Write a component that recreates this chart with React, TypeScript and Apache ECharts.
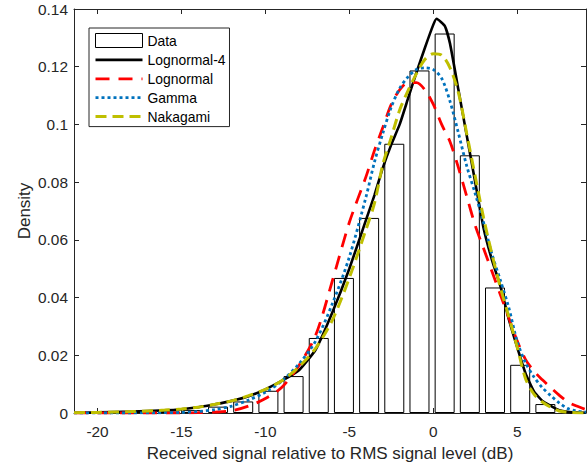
import React, { useEffect, useRef } from "react";
import * as echarts from "echarts";

// Histogram bins (bin centres in dB, density)
const binCenters = [-20.32, -18.82, -17.32, -15.82, -14.32, -12.82, -11.32, -9.82, -8.32, -6.82, -5.32, -3.82, -2.32, -0.82, 0.68, 2.18, 3.68, 5.18, 6.68, 8.18];
const binDensity = [0.0001, 0.0002, 0.0003, 0.0005, 0.001, 0.0022, 0.004, 0.0077, 0.0128, 0.026, 0.0468, 0.0676, 0.0933, 0.1187, 0.1315, 0.0893, 0.0435, 0.0167, 0.0031, 0.0004];

// Lognormal-4 fit
const logn4X = [-21.4, -20, -18, -16, -15, -14, -13, -12, -11, -10, -9, -8, -7, -6, -5, -4, -3.5, -3, -2.5, -2, -1.5, -1, -0.5, 0, 0.2, 0.7, 1, 1.5, 2, 2.5, 3, 3.5, 4, 4.5, 5, 5.5, 6, 6.5, 7, 7.5, 8, 8.5, 9.1];
const logn4Y = [0.0001, 0.0002, 0.0005, 0.0009, 0.0013, 0.002, 0.003, 0.0042, 0.0058, 0.0082, 0.0112, 0.0148, 0.022, 0.035, 0.05, 0.067, 0.0755, 0.085, 0.093, 0.1, 0.109, 0.118, 0.1265, 0.1345, 0.1366, 0.134, 0.128, 0.112, 0.096, 0.08, 0.064, 0.053, 0.044, 0.0325, 0.0228, 0.0137, 0.0075, 0.0042, 0.0025, 0.001, 0.0004, 0.0002, 0.0001];

// Shared x grid for the other fits
const fitX = [-21.4, -20, -18, -16, -15, -14, -13, -12, -11, -10, -9, -8, -7, -6, -5, -4, -3.5, -3, -2.5, -2, -1.5, -1, -0.5, 0, 0.5, 1, 1.5, 2, 2.5, 3, 3.5, 4, 4.5, 5, 5.5, 6, 6.5, 7, 7.5, 8, 8.5, 9.1];
const lognY = [0, 0, 0, 0, 0, 0.0001, 0.0003, 0.0008, 0.0024, 0.005, 0.009, 0.0165, 0.027, 0.046, 0.066, 0.082, 0.091, 0.099, 0.107, 0.112, 0.1145, 0.1145, 0.112, 0.107, 0.1, 0.094, 0.085, 0.075, 0.065, 0.057, 0.049, 0.041, 0.033, 0.025, 0.0185, 0.0145, 0.0115, 0.0088, 0.0062, 0.0039, 0.0025, 0.0012];
const gammaY = [0, 0, 0, 0.0001, 0.0002, 0.0005, 0.0012, 0.0024, 0.0045, 0.0072, 0.0112, 0.017, 0.025, 0.038, 0.054, 0.075, 0.087, 0.097, 0.106, 0.1125, 0.1165, 0.119, 0.1196, 0.119, 0.116, 0.108, 0.097, 0.0855, 0.076, 0.066, 0.055, 0.046, 0.0365, 0.0248, 0.0174, 0.0125, 0.0088, 0.006, 0.0035, 0.0016, 0.0007, 0.0003];
const nakaY = [0.0001, 0.0002, 0.0005, 0.001, 0.0014, 0.002, 0.003, 0.0042, 0.006, 0.0082, 0.0113, 0.016, 0.0225, 0.0323, 0.0468, 0.0637, 0.0727, 0.0862, 0.0955, 0.105, 0.1117, 0.1176, 0.1225, 0.1245, 0.124, 0.1196, 0.111, 0.0967, 0.082, 0.0676, 0.055, 0.0435, 0.0334, 0.0229, 0.0119, 0.0065, 0.0038, 0.002, 0.0007, 0.0003, 0.0001, 0];

const xTickValues = [-20, -15, -10, -5, 0, 5];
const seriesNames = ["Data", "Lognormal-4", "Lognormal", "Gamma", "Nakagami"];

const FONT = "'Liberation Sans', Arial, Helvetica, sans-serif";
const AXIS = "#262626";

const zip = (xs: number[], ys: number[]) => xs.map((x, i) => [x, ys[i]]);

export default function App() {
  const ref = useRef<HTMLDivElement>(null);
  useEffect(() => {
    document.body.style.margin = "0";
    if (!ref.current) return;
    const chart = echarts.init(ref.current, null, { renderer: "svg" });
    const xBase = {
      type: "value" as const,
      min: -21.4,
      max: 9.1,
      splitLine: { show: false },
      axisLine: { show: true, onZero: false, lineStyle: { color: AXIS, width: 1 } },
      axisTick: { show: true, inside: true, length: 5, customValues: xTickValues, lineStyle: { color: AXIS } },
    };
    const yBase = {
      type: "value" as const,
      min: 0,
      max: 0.14,
      interval: 0.02,
      splitLine: { show: false },
      axisLine: { show: true, onZero: false, lineStyle: { color: AXIS, width: 1 } },
      axisTick: { show: true, inside: true, length: 5, lineStyle: { color: AXIS } },
    };
    const hiddenSymbol = { opacity: 0 };
    chart.setOption({
      animation: false,
      backgroundColor: "#fff",
      grid: { left: 74, right: 1, top: 9, bottom: 54, containLabel: false, outerBoundsMode: "none" },
      xAxis: [
        {
          ...xBase,
          position: "bottom",
          name: "Received signal relative to RMS signal level (dB)",
          nameLocation: "middle",
          nameGap: 32,
          nameMoveOverlap: false,
          nameTextStyle: { fontSize: 17, color: AXIS, fontFamily: FONT },
          axisLabel: { customValues: xTickValues, margin: 11, fontSize: 15.4, color: AXIS, fontFamily: FONT },
        },
        { ...xBase, position: "top", axisLabel: { show: false } },
      ],
      yAxis: [
        {
          ...yBase,
          position: "left",
          name: "Density",
          nameLocation: "middle",
          nameGap: 41,
          nameMoveOverlap: false,
          nameTextStyle: { fontSize: 17, color: AXIS, fontFamily: FONT },
          axisLabel: { margin: 6, fontSize: 15.4, color: AXIS, fontFamily: FONT },
        },
        { ...yBase, position: "right", axisLabel: { show: false } },
      ],
      legend: {
        orient: "vertical",
        left: 89,
        top: 28,
        itemWidth: 47,
        itemHeight: 14,
        itemGap: 4.9,
        padding: [5, 4, 3, 5],
        borderColor: AXIS,
        borderWidth: 1,
        backgroundColor: "#fff",
        selectedMode: false,
        textStyle: { fontSize: 13.9, color: "#000", fontFamily: FONT },
        data: [
          { name: seriesNames[0], icon: "rect", itemStyle: { color: "#fff", borderColor: "#000", borderWidth: 1 } },
          { name: seriesNames[1], lineStyle: { width: 2.6 }, itemStyle: hiddenSymbol },
          { name: seriesNames[2], lineStyle: { width: 2.8 }, itemStyle: hiddenSymbol },
          { name: seriesNames[3], lineStyle: { width: 2.8 }, itemStyle: hiddenSymbol },
          { name: seriesNames[4], lineStyle: { width: 3 }, itemStyle: hiddenSymbol },
        ],
      },
      series: [
        {
          name: seriesNames[0],
          type: "bar",
          data: zip(binCenters, binDensity),
          barWidth: 20,
          itemStyle: { color: "#fff", borderColor: "#000", borderWidth: 1 },
          z: 1,
        },
        {
          name: seriesNames[1],
          type: "line",
          data: zip(logn4X, logn4Y),
          symbol: "none",
          smooth: 0.15,
          lineStyle: { color: "#000", width: 2.6, type: "solid" },
          itemStyle: { color: "#000" },
          z: 2,
        },
        {
          name: seriesNames[2],
          type: "line",
          data: zip(fitX, lognY),
          symbol: "none",
          smooth: 0.3,
          lineStyle: { color: "#FF0000", width: 2.8, type: [14, 9] },
          itemStyle: { color: "#FF0000" },
          z: 3,
        },
        {
          name: seriesNames[3],
          type: "line",
          data: zip(fitX, gammaY),
          symbol: "none",
          smooth: 0.3,
          lineStyle: { color: "#0072BD", width: 2.8, type: [3, 3] },
          itemStyle: { color: "#0072BD" },
          z: 4,
        },
        {
          name: seriesNames[4],
          type: "line",
          data: zip(fitX, nakaY),
          symbol: "none",
          smooth: 0.3,
          lineStyle: { color: "#BFBF00", width: 3, type: [11, 6] },
          itemStyle: { color: "#BFBF00" },
          z: 5,
        },
      ],
    });
    return () => chart.dispose();
  }, []);
  return <div ref={ref} style={{ width: 587, height: 467 }} />;
}
